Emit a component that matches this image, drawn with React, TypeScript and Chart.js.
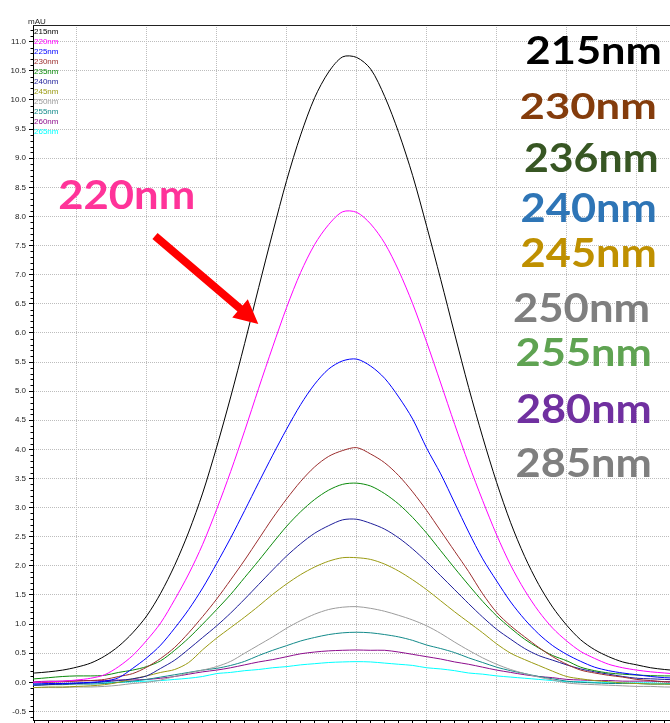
import { useEffect, useRef } from "react";
import { Chart, registerables } from "chart.js";

Chart.register(...registerables);

// Retention time (min) of each sample
const retentionTime = [
  2.02, 2.04, 2.06, 2.08, 2.1, 2.12, 2.14, 2.16, 2.18, 2.2, 2.22, 2.24, 2.26, 2.28, 2.3, 2.32,
  2.34, 2.36, 2.38, 2.4, 2.42, 2.44, 2.46, 2.48, 2.5, 2.52, 2.54, 2.56, 2.58, 2.6, 2.62, 2.64,
  2.66, 2.68, 2.7, 2.72, 2.74, 2.76, 2.78, 2.8, 2.82, 2.84, 2.86, 2.88, 2.9, 2.92, 2.94, 2.96,
];

const wavelengths = ["215nm", "220nm", "225nm", "230nm", "235nm", "240nm", "245nm", "250nm", "255nm", "260nm", "265nm"];

// Absorbance (mAU) per detection wavelength
const abs215 = [0.15, 0.16, 0.18, 0.21, 0.26, 0.33, 0.45, 0.62, 0.85, 1.14, 1.53, 2.01, 2.58, 3.25, 4.04, 4.9, 5.82, 6.78, 7.72, 8.62, 9.4, 10.04, 10.48, 10.74, 10.73, 10.53, 10.06, 9.44, 8.7, 7.83, 6.92, 5.98, 5.06, 4.21, 3.43, 2.74, 2.16, 1.68, 1.29, 0.98, 0.73, 0.56, 0.44, 0.35, 0.3, 0.25, 0.22, 0.2];
const abs220 = [0.0, 0.0, 0.01, 0.02, 0.04, 0.07, 0.13, 0.27, 0.46, 0.72, 1.02, 1.42, 1.86, 2.37, 2.97, 3.62, 4.32, 5.05, 5.76, 6.44, 7.04, 7.52, 7.86, 8.08, 8.07, 7.87, 7.54, 7.07, 6.5, 5.84, 5.14, 4.43, 3.75, 3.12, 2.53, 2.01, 1.58, 1.22, 0.93, 0.71, 0.53, 0.41, 0.31, 0.25, 0.21, 0.18, 0.16, 0.14];
const abs225 = [-0.03, -0.03, -0.02, -0.02, -0.01, 0.0, 0.02, 0.08, 0.24, 0.42, 0.64, 0.93, 1.25, 1.62, 2.04, 2.48, 2.95, 3.43, 3.9, 4.35, 4.77, 5.12, 5.38, 5.52, 5.55, 5.43, 5.22, 4.9, 4.52, 4.02, 3.58, 3.08, 2.58, 2.12, 1.74, 1.38, 1.08, 0.83, 0.63, 0.48, 0.36, 0.26, 0.2, 0.16, 0.13, 0.1, 0.08, 0.07];
const abs230 = [-0.01, -0.01, 0.0, 0.01, 0.02, 0.03, 0.05, 0.1, 0.15, 0.26, 0.41, 0.6, 0.85, 1.13, 1.43, 1.76, 2.1, 2.46, 2.82, 3.15, 3.45, 3.7, 3.88, 3.98, 4.03, 3.92, 3.77, 3.55, 3.27, 2.95, 2.6, 2.25, 1.9, 1.52, 1.2, 0.97, 0.78, 0.6, 0.44, 0.31, 0.21, 0.16, 0.12, 0.09, 0.05, 0.03, 0.01, 0.0];
const abs235 = [0.05, 0.06, 0.08, 0.1, 0.11, 0.11, 0.12, 0.17, 0.21, 0.27, 0.37, 0.55, 0.76, 1.0, 1.25, 1.51, 1.8, 2.09, 2.39, 2.68, 2.93, 3.14, 3.3, 3.4, 3.42, 3.37, 3.24, 3.06, 2.83, 2.56, 2.26, 1.96, 1.67, 1.39, 1.14, 0.93, 0.74, 0.59, 0.46, 0.37, 0.26, 0.2, 0.16, 0.14, 0.125, 0.115, 0.11, 0.11];
const abs240 = [-0.05, -0.05, -0.04, -0.03, -0.02, -0.01, 0.01, 0.03, 0.06, 0.11, 0.24, 0.38, 0.57, 0.77, 0.97, 1.19, 1.43, 1.68, 1.93, 2.17, 2.38, 2.56, 2.69, 2.79, 2.8, 2.73, 2.63, 2.48, 2.29, 2.07, 1.83, 1.59, 1.35, 1.12, 0.91, 0.74, 0.58, 0.46, 0.38, 0.3, 0.23, 0.18, 0.14, 0.1, 0.07, 0.06, 0.05, 0.04];
const abs245 = [-0.09, -0.09, -0.08, -0.08, -0.07, -0.06, -0.04, 0.0, 0.06, 0.11, 0.17, 0.22, 0.34, 0.56, 0.76, 0.94, 1.12, 1.31, 1.51, 1.69, 1.85, 1.98, 2.08, 2.14, 2.14, 2.11, 2.03, 1.91, 1.76, 1.59, 1.4, 1.21, 1.03, 0.85, 0.66, 0.5, 0.39, 0.29, 0.19, 0.1, 0.06, 0.03, 0.01, -0.01, -0.02, -0.03, -0.03, -0.04];
const abs250 = [-0.08, -0.09, -0.09, -0.09, -0.08, -0.08, -0.07, -0.05, -0.02, 0.0, 0.04, 0.1, 0.16, 0.21, 0.27, 0.36, 0.5, 0.64, 0.78, 0.93, 1.06, 1.17, 1.25, 1.29, 1.3, 1.27, 1.22, 1.15, 1.07, 0.97, 0.84, 0.69, 0.55, 0.42, 0.31, 0.22, 0.15, 0.09, 0.04, -0.01, -0.03, -0.04, -0.05, -0.06, -0.07, -0.07, -0.08, -0.08];
const abs255 = [-0.05, -0.05, -0.04, -0.04, -0.03, -0.03, -0.02, 0.0, 0.02, 0.05, 0.09, 0.13, 0.17, 0.21, 0.24, 0.29, 0.36, 0.46, 0.55, 0.63, 0.71, 0.77, 0.82, 0.85, 0.86, 0.85, 0.82, 0.78, 0.72, 0.64, 0.58, 0.51, 0.42, 0.34, 0.26, 0.2, 0.15, 0.1, 0.06, 0.02, 0.0, -0.01, -0.02, -0.02, -0.02, -0.03, -0.03, -0.03];
const abs260 = [0.0, 0.01, 0.02, 0.02, 0.03, 0.03, 0.03, 0.04, 0.04, 0.05, 0.07, 0.1, 0.14, 0.18, 0.21, 0.25, 0.3, 0.35, 0.39, 0.44, 0.49, 0.52, 0.54, 0.55, 0.555, 0.55, 0.55, 0.52, 0.48, 0.44, 0.4, 0.35, 0.31, 0.26, 0.21, 0.17, 0.13, 0.1, 0.08, 0.05, 0.04, 0.03, 0.03, 0.02, 0.02, 0.02, 0.01, 0.01];
const abs265 = [-0.03, -0.03, -0.03, -0.02, -0.02, -0.01, -0.01, 0.0, 0.01, 0.02, 0.03, 0.05, 0.07, 0.1, 0.15, 0.17, 0.2, 0.22, 0.25, 0.27, 0.3, 0.32, 0.34, 0.35, 0.355, 0.35, 0.33, 0.31, 0.29, 0.25, 0.23, 0.2, 0.16, 0.14, 0.11, 0.09, 0.07, 0.05, 0.03, 0.01, 0.01, 0.0, 0.0, -0.01, -0.01, -0.01, -0.02, -0.02];

const seriesValues = [abs215, abs220, abs225, abs230, abs235, abs240, abs245, abs250, abs255, abs260, abs265];

// Y tick labels every 0.5 mAU
const yTickValues = [-0.5, 0, 0.5, 1, 1.5, 2, 2.5, 3, 3.5, 4, 4.5, 5, 5.5, 6, 6.5, 7, 7.5, 8, 8.5, 9, 9.5, 10, 10.5, 11];

// Wavelength callouts on the right and the arrowed one on the left
const calloutTexts = ["215nm", "230nm", "236nm", "240nm", "245nm", "250nm", "255nm", "280nm", "285nm"];
const arrowText = "220nm";

const lineColors = ["#000000", "#ff00ff", "#0000ff", "#9b2d2d", "#0a8a0a", "#1e1e9a", "#9a9a12", "#9c9c9c", "#138a8a", "#8c0c8c", "#00ffff"];
const calloutColors = ["#000000", "#843c0c", "#375623", "#2e75b6", "#bf9000", "#7f7f7f", "#5fa352", "#7030a0", "#7f7f7f"];
const calloutBoxes = [
  { x: 526.7, base: 64.3, w: 133.3, h: 27.6 },
  { x: 520.7, base: 119, w: 134.3, h: 26.5 },
  { x: 525, base: 171.7, w: 131.7, h: 28.3 },
  { x: 521.7, base: 221.7, w: 133.3, h: 29 },
  { x: 521.7, base: 266.7, w: 133.3, h: 29 },
  { x: 514, base: 321.7, w: 134.3, h: 28.3 },
  { x: 516.7, base: 366, w: 133.3, h: 27.7 },
  { x: 517, base: 423.3, w: 133, h: 28.3 },
  { x: 516.7, base: 476.7, w: 133.3, h: 28.3 },
];

const X_MIN = 2.0376;
const X_MAX = 2.9476;
const Y_MIN = -0.647;
const Y_MAX = 11.287;
const GRID = "#bdbdbd";
const xTickValues = Array.from({ length: 46 }, (_, i) => +(2.04 + i * 0.02).toFixed(2));

const isTenth = (v: number) => Math.abs(Math.round(v * 10) - v * 10) < 1e-6;

function drawFittedText(ctx: CanvasRenderingContext2D, text: string, x: number, base: number, w: number, h: number, color: string, font: string) {
  ctx.save();
  ctx.font = font;
  ctx.textAlign = "left";
  ctx.textBaseline = "alphabetic";
  const m = ctx.measureText(text);
  const inkW = m.actualBoundingBoxLeft + m.actualBoundingBoxRight;
  const inkH = m.actualBoundingBoxAscent;
  ctx.translate(x, base);
  ctx.scale(w / inkW, h / inkH);
  ctx.fillStyle = color;
  ctx.fillText(text, m.actualBoundingBoxLeft, 0);
  ctx.restore();
}

const decorations = {
  id: "chromDecorations",
  afterDraw(chart: any) {
    const { ctx, chartArea: a } = chart;
    const y = chart.scales.y;
    ctx.save();
    // top frame line
    ctx.strokeStyle = "#222";
    ctx.lineWidth = 1;
    ctx.beginPath();
    ctx.moveTo(a.left, Math.round(a.top) + 0.5);
    ctx.lineTo(a.right, Math.round(a.top) + 0.5);
    ctx.stroke();
    // minor y ticks every 0.1
    ctx.strokeStyle = "#000";
    ctx.beginPath();
    for (let i = -6; i <= 112; i++) {
      if (i % 5 === 0) continue;
      const py = Math.round(y.getPixelForValue(i / 10)) + 0.5;
      ctx.moveTo(a.left - 2.5, py);
      ctx.lineTo(a.left, py);
    }
    ctx.stroke();
    // unit label
    ctx.font = '8px "Liberation Sans", Arial, sans-serif';
    ctx.fillStyle = "#222";
    ctx.textBaseline = "alphabetic";
    ctx.fillText("mAU", 28, 23.5);
    // series key in the corner
    chart.data.datasets.forEach((ds: any, i: number) => {
      ctx.fillStyle = ds.borderColor;
      ctx.fillText(ds.label, a.left + 1, 33.8 + i * 10);
    });
    ctx.restore();

    // callouts
    calloutTexts.forEach((t, i) => {
      const b = calloutBoxes[i];
      drawFittedText(ctx, t, b.x, b.base, b.w, b.h, calloutColors[i], "bold 39px Lato, sans-serif");
    });
    drawFittedText(ctx, arrowText, 59.3, 209.3, 134, 29.3, "#ff3399", "bold 39px Lato, sans-serif");

    // red arrow
    const sx = 155, sy = 236, tx = 258.3, ty = 324;
    const dx = tx - sx, dy = ty - sy;
    const len = Math.hypot(dx, dy);
    const ux = dx / len, uy = dy / len;
    const nx = -uy, ny = ux;
    const headLen = 24, headHalf = 12, shaftHalf = 4;
    const bx = tx - ux * headLen, by = ty - uy * headLen;
    ctx.save();
    ctx.fillStyle = "#ff0000";
    ctx.beginPath();
    ctx.moveTo(sx + nx * shaftHalf, sy + ny * shaftHalf);
    ctx.lineTo(bx + nx * shaftHalf, by + ny * shaftHalf);
    ctx.lineTo(bx + nx * headHalf, by + ny * headHalf);
    ctx.lineTo(tx, ty);
    ctx.lineTo(bx - nx * headHalf, by - ny * headHalf);
    ctx.lineTo(bx - nx * shaftHalf, by - ny * shaftHalf);
    ctx.lineTo(sx - nx * shaftHalf, sy - ny * shaftHalf);
    ctx.closePath();
    ctx.fill();
    ctx.restore();
  },
};

function buildConfig(): any {
  const datasets = seriesValues.map((vals, i) => ({
    label: wavelengths[i],
    data: retentionTime.map((t, j) => ({ x: t, y: vals[j] })),
    borderColor: lineColors[i],
    backgroundColor: lineColors[i],
    borderWidth: 1,
    pointRadius: 0,
    fill: false,
    tension: 0.3,
  }));
  return {
    type: "line",
    data: { datasets },
    plugins: [decorations],
    options: {
      animation: false,
      responsive: false,
      devicePixelRatio: 1,
      events: [],
      layout: { padding: { top: 25, left: 0, right: 0, bottom: 0 } },
      plugins: { legend: { display: false }, tooltip: { enabled: false } },
      scales: {
        x: {
          type: "linear",
          min: X_MIN,
          max: X_MAX,
          afterBuildTicks: (s: any) => {
            s.ticks = xTickValues.map((v) => ({ value: v }));
          },
          ticks: { display: false },
          grid: {
            color: (c: any) => (c.tick ? (isTenth(c.tick.value) ? GRID : "rgba(0,0,0,0)") : GRID),
            tickColor: "#000",
            tickLength: 3,
            lineWidth: 1,
          },
          border: { display: true, color: "#000", width: 1, dash: [1, 1] },
          afterFit: (s: any) => {
            s.height = 3;
            s.paddingLeft = 0;
            s.paddingRight = 0;
          },
        },
        y: {
          min: Y_MIN,
          max: Y_MAX,
          afterBuildTicks: (s: any) => {
            s.ticks = yTickValues.map((v) => ({ value: v }));
          },
          ticks: {
            callback: (v: any) => Number(v).toFixed(1),
            font: { family: '"Liberation Sans", Arial, sans-serif', size: 8 },
            color: "#222",
            padding: 3,
          },
          grid: { color: GRID, tickColor: "#000", tickLength: 4, lineWidth: 1 },
          border: { display: true, color: "#000", width: 1, dash: [1, 1] },
          afterFit: (s: any) => {
            s.width = 33;
            s.paddingTop = 0;
            s.paddingBottom = 0;
          },
        },
      },
    },
  };
}

export default function App() {
  const canvasRef = useRef<HTMLCanvasElement>(null);
  useEffect(() => {
    let chart: Chart | null = null;
    let cancelled = false;
    const build = () => {
      if (cancelled || !canvasRef.current) return;
      chart = new Chart(canvasRef.current, buildConfig());
    };
    const fonts: any = (document as any).fonts;
    if (fonts && fonts.load) {
      Promise.all([fonts.load("bold 39px Lato"), fonts.load('8px "Liberation Sans"')]).then(build, build);
    } else {
      build();
    }
    return () => {
      cancelled = true;
      if (chart) chart.destroy();
    };
  }, []);
  return (
    <div style={{ position: "absolute", left: 0, top: 0, width: 670, height: 723, background: "#fff" }}>
      <canvas ref={canvasRef} width={670} height={723} style={{ display: "block" }} />
    </div>
  );
}
